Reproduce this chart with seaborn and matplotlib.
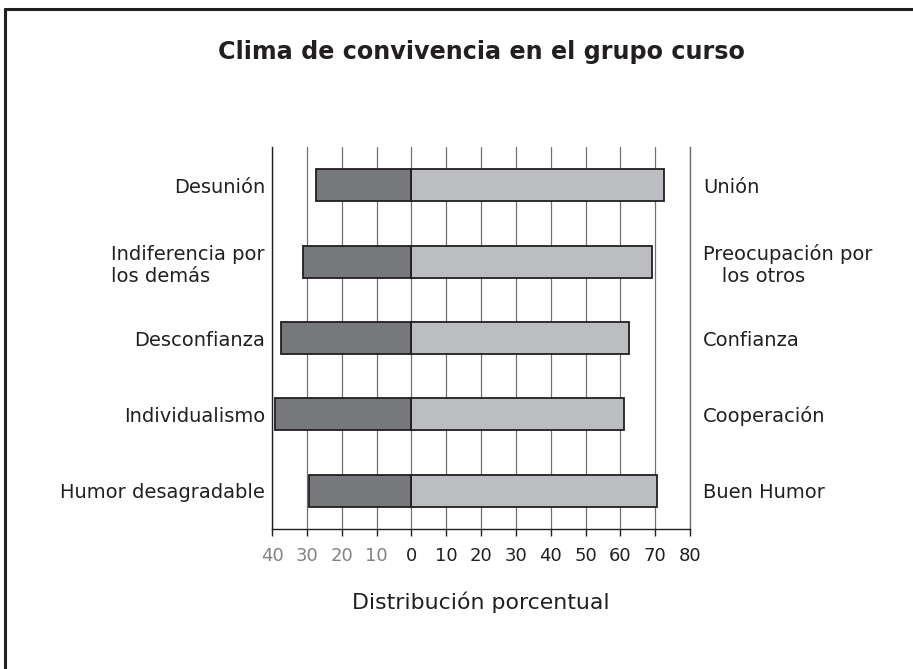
import numpy as np
import pandas as pd
import seaborn as sns
import matplotlib.pyplot as plt
from matplotlib.lines import Line2D

# Data
left_labels = ["Desunión", "Indiferencia por\nlos demás", "Desconfianza",
               "Individualismo", "Humor desagradable"]
right_labels = ["Unión", "Preocupación por\n   los otros", "Confianza",
                "Cooperación", "Buen Humor"]
negative = [27.5, 31, 37.5, 39, 29.5]
positive = [72.5, 69, 62.5, 61, 70.5]
tick_values = [-40, -30, -20, -10, 0, 10, 20, 30, 40, 50, 60, 70, 80]
tick_labels = ["40", "30", "20", "10", "0", "10", "20", "30", "40", "50", "60", "70", "80"]

df = pd.DataFrame({"fila": left_labels,
                   "neg": -np.array(negative),
                   "pos": positive})

sns.set_style("white")
plt.rcParams["font.family"] = ["DejaVu Sans"]

fig = plt.figure(figsize=(9.13, 6.69), dpi=100)
ax = fig.add_axes([272 / 913, 1 - 529 / 669, 418 / 913, 382 / 669])

sns.barplot(data=df, x="pos", y="fila", orient="h", color="#bcbdc0", saturation=1,
            edgecolor="#231f20", linewidth=1.3, width=0.42, ax=ax, zorder=3)
sns.barplot(data=df, x="neg", y="fila", orient="h", color="#77787b", saturation=1,
            edgecolor="#231f20", linewidth=1.3, width=0.42, ax=ax, zorder=3)

ax.set_xlim(-40, 80)
ax.set_ylim(4.5, -0.5)
ax.set_xticks(tick_values, tick_labels)
ax.tick_params(axis="x", bottom=True, length=5, width=1, color="#231f20",
               labelsize=13, pad=8, labelcolor="#231f20")
for lbl in ax.get_xticklabels()[:4]:
    lbl.set_color("#808285")

ax.tick_params(axis="y", left=False, length=0, labelsize=14, pad=5, labelcolor="#231f20")
ax.get_yticklabels()[1].set_multialignment("left")

ax.set_axisbelow(True)
ax.grid(axis="x", color="#707174", linewidth=0.9)
ax.grid(axis="y", visible=False)
ax.spines["top"].set_visible(False)
ax.spines["left"].set_color("#231f20")
ax.spines["left"].set_linewidth(1)
ax.spines["right"].set_color("#6d6e71")
ax.spines["right"].set_linewidth(1)
ax.spines["bottom"].set_color("#231f20")
ax.spines["bottom"].set_linewidth(1)

ax.set_ylabel("")
ax.set_xlabel("Distribución porcentual", fontsize=15.8, color="#231f20", labelpad=19)

# right side labels
ax2 = ax.twinx()
ax2.set_ylim(4.5, -0.5)
ax2.set_yticks(range(len(right_labels)), right_labels)
ax2.tick_params(axis="y", right=False, length=0, labelsize=14, pad=9.4, labelcolor="#231f20")
for lbl in ax2.get_yticklabels():
    lbl.set_multialignment("left")
for s in ax2.spines.values():
    s.set_visible(False)

fig.text(481 / 913, 1 - 52 / 669, "Clima de convivencia en el grupo curso",
         ha="center", va="center", fontsize=17.2, fontweight="bold", color="#231f20")

# frame around the figure (top and left only, as cropped)
fig.add_artist(Line2D([5 / 913, 5 / 913], [0, 1 - 9 / 669], color="#231f20", linewidth=2.2))
fig.add_artist(Line2D([5 / 913, 1], [1 - 9 / 669, 1 - 9 / 669], color="#231f20", linewidth=2.2))

fig.savefig("out.png", dpi=100)
